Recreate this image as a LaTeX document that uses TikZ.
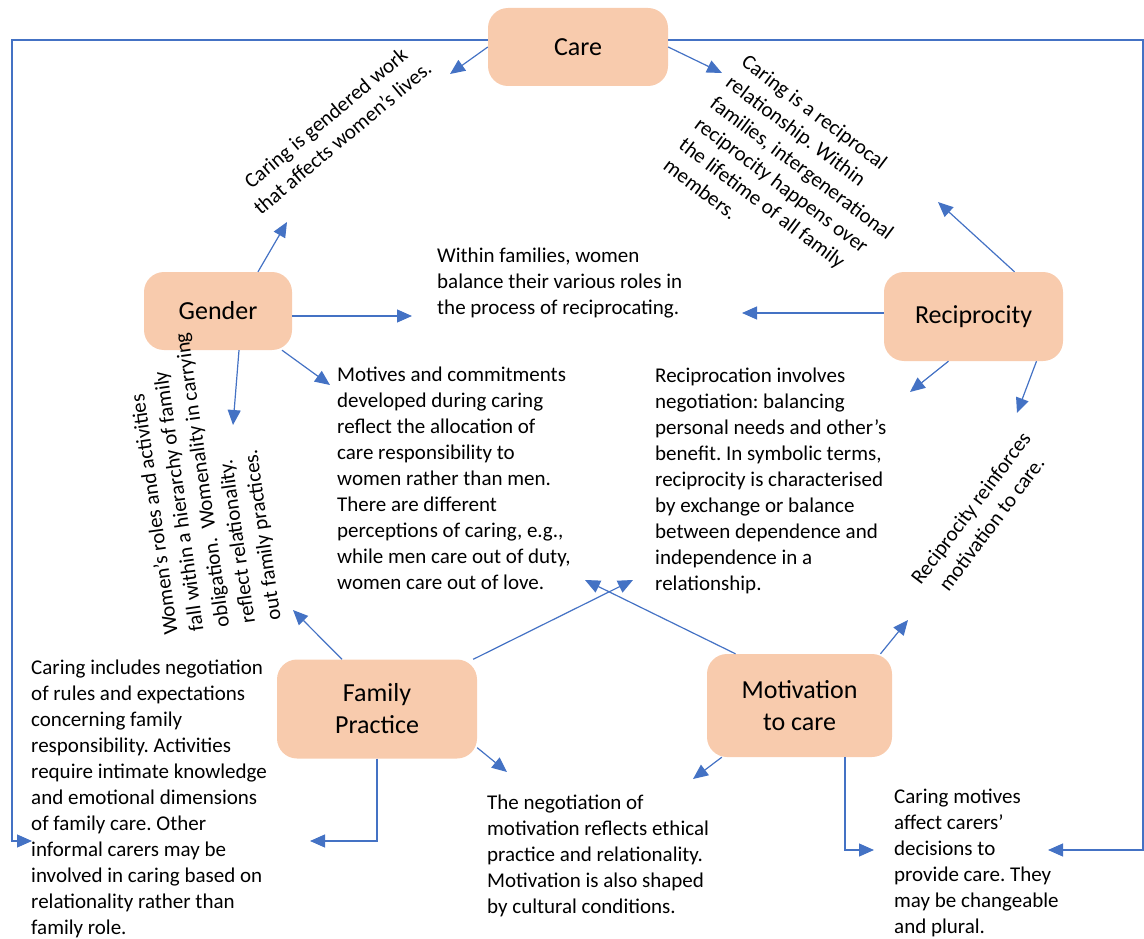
\documentclass[tikz,border=0pt]{standalone}
\usepackage{fontspec}
\setmainfont{Carlito}
\usetikzlibrary{arrows.meta}
\definecolor{peach}{HTML}{F8CBAD}
\definecolor{arrowblue}{HTML}{4472C4}
\frenchspacing
\begin{document}
\begin{tikzpicture}[x=1pt,y=-1pt,
  box/.style={fill=peach, draw=none, rounded corners=20pt, font=\fontsize{26}{32}\selectfont, align=center, inner sep=0pt},
  body/.style={font=\fontsize{21}{26}\selectfont, inner sep=0pt, align=left},
  arr/.style={draw=arrowblue, line width=1.2pt, -{Triangle[length=15pt,width=13pt]}},
]
\useasboundingbox (0,0) rectangle (1144,939);

% boxes
\node[box, minimum width=180pt, minimum height=78pt] (care) at (578,47) {Care};
\node[box, minimum width=148pt, minimum height=78pt] (gender) at (218,311) {Gender};
\node[box, minimum width=179pt, minimum height=89pt] (recip) at (973.5,316.5) {Reciprocity};
\node[box, minimum width=200pt, minimum height=99pt] (family) at (377,709) {Family\\Practice};
\node[box, minimum width=185pt, minimum height=103pt] (motiv) at (799.5,705.5) {Motivation\\to care};

% texts
\node[body, anchor=north west] (tw) at (437,248) {Within families, women\\balance their various roles in\\the process of reciprocating.};
\node[body, anchor=north west] (tm) at (337,367) {Motives and commitments\\developed during caring\\reflect the allocation of\\care responsibility to\\women rather than men.\\There are different\\perceptions of caring, e.g.,\\while men care out of duty,\\women care out of love.};
\node[body, anchor=north west] (tr) at (655,368) {Reciprocation involves\\negotiation: balancing\\personal needs and other’s\\benefit. In symbolic terms,\\reciprocity is characterised\\by exchange or balance\\between dependence and\\independence in a\\relationship.};
\node[body, anchor=north west] (tc) at (31,660) {Caring includes negotiation\\of rules and expectations\\concerning family\\responsibility. Activities\\require intimate knowledge\\and emotional dimensions\\of family care. Other\\informal carers may be\\involved in caring based on\\relationality rather than\\family role.};
\node[body, anchor=north west] (tn) at (487,795) {The negotiation of\\motivation reflects ethical\\practice and relationality.\\Motivation is also shaped\\by cultural conditions.};
\node[body, anchor=north west] (tmo) at (894,789) {Caring motives\\affect carers’\\decisions to\\provide care. They\\may be changeable\\and plural.};

% rotated texts
\node[body, align=center, rotate=40] (rg) at (334,128) {Caring is gendered work\\that affects women’s lives.};
\node[body, rotate=-37, anchor=north west] (rr) at (749,53) {Caring is a reciprocal\\relationship. Within\\families, intergenerational\\reciprocity happens over\\the lifetime of all family\\members.};
\node[body, rotate=98, anchor=north west] (rw) at (163,636) {Women’s roles and activities\\fall within a hierarchy of family\\obligation. \ Womenality in carrying\\reflect relationality.\\out family practices.};
\node[body, align=center, rotate=53] (rm) at (981,516) {Reciprocity reinforces\\motivation to care.};

% arrow tips
\coordinate (tA) at (450,74);
\coordinate (tB) at (722,73);
\coordinate (tC) at (287,222);
\coordinate (tD) at (412,316);
\coordinate (tE) at (233,425);
\coordinate (tF) at (330,385);
\coordinate (tG) at (938,202);
\coordinate (tH) at (742,313);
\coordinate (tI) at (910,392);
\coordinate (tJ) at (1017,413);
\coordinate (tK) at (908,620);
\coordinate (tL) at (293,610);
\coordinate (tM) at (633,580);
\coordinate (tN) at (585,580);
\coordinate (tO) at (507,772);
\coordinate (tP) at (693,779);
\coordinate (tQ) at (310,841);
\coordinate (tR) at (874,850);
\coordinate (tS) at (32,841);
\coordinate (tT) at (1048,850);
\coordinate (bS) at (12,841);
\coordinate (bT) at (1143,850);

% connectors
\draw[arr] (care.west) -- (tA);
\draw[arr] (care.east) -- (tB);
\draw[arr] ([xshift=40pt]gender.north) -- (tC);
\draw[arr] ([yshift=-5pt]gender.east) -- (tD);
\draw[arr] ([xshift=21pt]gender.south) -- (tE);
\draw[arr] ([xshift=64pt]gender.south) -- (tF);
\draw[arr] ([xshift=41pt]recip.north) -- (tG);
\draw[arr] ([yshift=3.5pt]recip.west) -- (tH);
\draw[arr] ([xshift=-25pt]recip.south) -- (tI);
\draw[arr] ([xshift=63pt]recip.south) -- (tJ);
\draw[arr] ([xshift=81pt]motiv.north) -- (tK);
\draw[arr] ([xshift=-35pt]family.north) -- (tL);
\draw[arr] ([xshift=-4pt]family.north east) -- (tM);
\draw[arr] ([xshift=-64pt]motiv.north) -- (tN);
\draw[arr] ([yshift=11pt]family.south east) -- (tO);
\draw[arr] ([xshift=15pt]motiv.south west) -- (tP);
\draw[arr] (family.south) |- (tQ);
\draw[arr] ([xshift=45.5pt]motiv.south) |- (tR);
\draw[arr] ([yshift=7pt]care.west) -| (bS) -- (tS);
\draw[arr] ([yshift=7pt]care.east) -| (bT) -- (tT);
\end{tikzpicture}
\end{document}
